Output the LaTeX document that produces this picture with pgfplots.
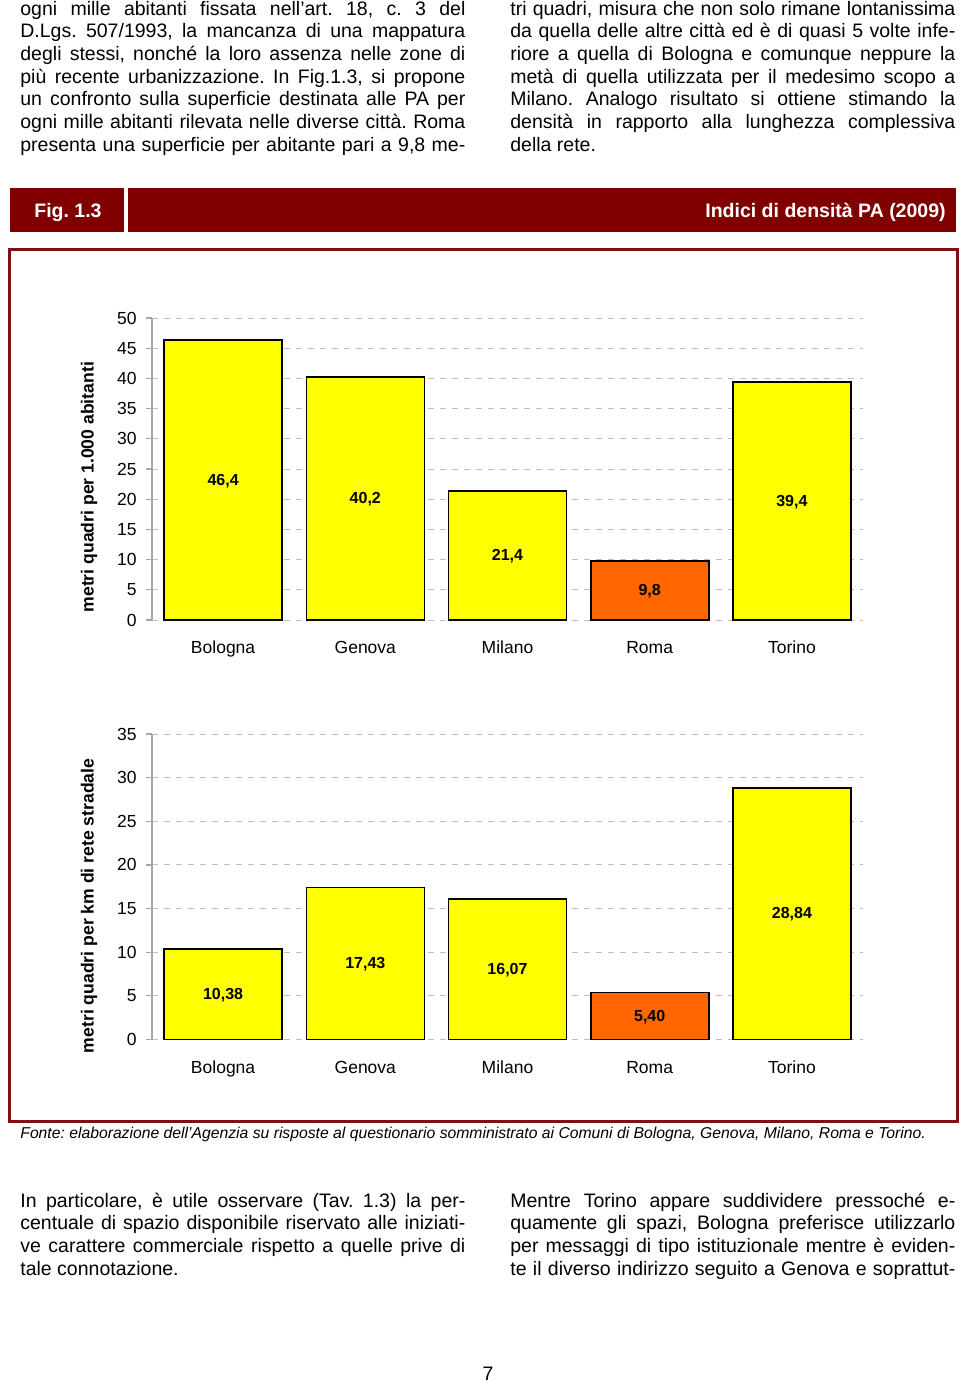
\documentclass[border=0pt]{standalone}
\usepackage{fontspec}
\setmainfont{Liberation Sans}
\usepackage{pgfplots}
\pgfplotsset{compat=1.18}
\frenchspacing
\definecolor{hdr}{RGB}{128,0,0}
\definecolor{frm}{RGB}{125,18,20}
\definecolor{byel}{RGB}{255,255,0}
\definecolor{borg}{RGB}{255,102,0}
\newcommand{\Lj}[3]{\node[anchor=base west,inner sep=0pt] at (#1pt,-#2pt) {\makebox[222.5pt][s]{#3}};}
\newcommand{\Ll}[3]{\node[anchor=base west,inner sep=0pt] at (#1pt,-#2pt) {#3};}
\pgfplotsset{
  mybar/.style={
    ybar, bar width=59pt,
    scale only axis, width=355.5pt,
    xmin=-0.5, xmax=4.5,
    xtick={0,1,2,3,4}, xticklabels={Bologna,Genova,Milano,Roma,Torino},
    ymin=0,
    axis lines*=left,
    x axis line style={draw=none},
    y axis line style={draw=gray!70, line width=0.6pt},
    xtick style={draw=none},
    ytick style={draw=gray!70, line width=0.6pt},
    tick align=outside, major tick length=3pt,
    ymajorgrids,
    grid style={gray!50, line width=0.5pt, dash pattern=on 3pt off 3pt},
    tick label style={font=\fontsize{8.75}{10}\selectfont},
    yticklabel style={anchor=east, inner sep=0pt, xshift=-4.5pt},
    xticklabel style={anchor=base, inner sep=0pt, yshift=-13.75pt},
    /pgf/number format/assume math mode=true,
    /pgf/number format/use comma,
    ylabel style={font=\bfseries\fontsize{8.8}{10}\selectfont, anchor=center},
    clip=false,
    visualization depends on={rawy \as \rawy},
    every node near coord/.append style={font=\bfseries\fontsize{8}{9}\selectfont, anchor=center, shift={(axis direction cs:0,-\rawy/2)}, yshift=-0.5pt},
  },
  barst/.style={draw=black, line width=0.8pt, fill=#1, bar shift=0pt},
}
\begin{document}
\begin{tikzpicture}
\useasboundingbox (0,0) rectangle (480pt,-691pt);
\fontsize{9.75}{11.35}\selectfont
% top text, left column
\Lj{10}{7.5}{ogni mille abitanti fissata nell’art. 18, c. 3 del}
\Lj{10}{18.85}{D.Lgs. 507/1993, la mancanza di una mappatura}
\Lj{10}{30.2}{degli stessi, nonché la loro assenza nelle zone di}
\Lj{10}{41.55}{più recente urbanizzazione. In Fig.1.3, si propone}
\Lj{10}{52.9}{un confronto sulla superficie destinata alle PA per}
\Lj{10}{64.25}{ogni mille abitanti rilevata nelle diverse città. Roma}
\Lj{10}{75.6}{presenta una superficie per abitante pari a 9,8 me-}
% top text, right column
\Lj{255}{7.5}{tri quadri, misura che non solo rimane lontanissima}
\Lj{255}{18.85}{da quella delle altre città ed è di quasi 5 volte infe-}
\Lj{255}{30.2}{riore a quella di Bologna e comunque neppure la}
\Lj{255}{41.55}{metà di quella utilizzata per il medesimo scopo a}
\Lj{255}{52.9}{Milano. Analogo risultato si ottiene stimando la}
\Lj{255}{64.25}{densità in rapporto alla lunghezza complessiva}
\Ll{255}{75.6}{della rete.}
% header
\fill[hdr] (5pt,-94pt) rectangle (62pt,-116pt);
\fill[hdr] (64pt,-94pt) rectangle (478pt,-116pt);
\node[anchor=base west,inner sep=0pt,text=white,font=\bfseries] at (17pt,-108.5pt) {Fig. 1.3};
\node[anchor=base east,inner sep=0pt,text=white,font=\bfseries] at (473pt,-108.5pt) {Indici di densità PA (2009)};
% frame
\draw[frm, line width=1.5pt] (4.75pt,-124.75pt) rectangle (478.5pt,-560.8pt);
% chart 1
\begin{axis}[mybar, at={(76pt,-310pt)}, anchor=south west, height=151pt,
  ymax=50, ytick={0,5,...,50},
  ylabel={metri quadri per 1.000 abitanti},
  ylabel style={at={(rel axis cs:-0.0886,0.44)}},
  nodes near coords={\pgfmathprintnumber[fixed,fixed zerofill,precision=1]{\pgfplotspointmeta}}]
\addplot[barst=byel] coordinates {(0,46.4) (1,40.2) (2,21.4) (4,39.4)};
\addplot[barst=borg] coordinates {(3,9.8)};
\end{axis}
% chart 2
\begin{axis}[mybar, at={(76pt,-519.75pt)}, anchor=south west, height=152.75pt,
  ymax=35, ytick={0,5,...,35},
  ylabel={metri quadri per km di rete stradale},
  ylabel style={at={(rel axis cs:-0.0886,0.4375)}},
  nodes near coords={\pgfmathprintnumber[fixed,fixed zerofill,precision=2]{\pgfplotspointmeta}}]
\addplot[barst=byel] coordinates {(0,10.38) (1,17.43) (2,16.07) (4,28.84)};
\addplot[barst=borg] coordinates {(3,5.40)};
\end{axis}
% source
\node[anchor=base west,inner sep=0pt,font=\itshape\fontsize{7.86}{9}\selectfont] at (10pt,-569pt) {Fonte: elaborazione dell’Agenzia su risposte al questionario somministrato ai Comuni di Bologna, Genova, Milano, Roma e Torino.};
% bottom text
\Lj{10}{603.5}{In particolare, è utile osservare (Tav. 1.3) la per-}
\Lj{10}{614.85}{centuale di spazio disponibile riservato alle iniziati-}
\Lj{10}{626.2}{ve carattere commerciale rispetto a quelle prive di}
\Ll{10}{637.55}{tale connotazione.}
\Lj{255}{603.5}{Mentre Torino appare suddividere pressoché e-}
\Lj{255}{614.85}{quamente gli spazi, Bologna preferisce utilizzarlo}
\Lj{255}{626.2}{per messaggi di tipo istituzionale mentre è eviden-}
\Lj{255}{637.55}{te il diverso indirizzo seguito a Genova e soprattut-}
\node[anchor=base,inner sep=0pt] at (244pt,-690pt) {7};
\end{tikzpicture}
\end{document}
